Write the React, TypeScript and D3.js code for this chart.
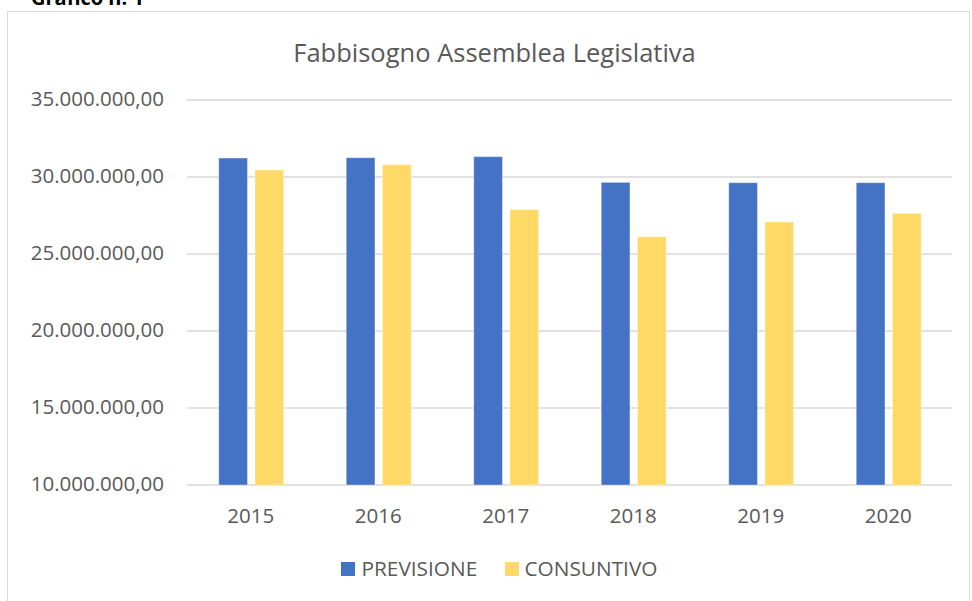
import React from "react";
import * as d3 from "d3";

const years = ["2015", "2016", "2017", "2018", "2019", "2020"];
const seriesNames = ["PREVISIONE", "CONSUNTIVO"];
const previsione = [31230000, 31250000, 31320000, 29650000, 29630000, 29630000];
const consuntivo = [30450000, 30800000, 27880000, 26120000, 27080000, 27640000];
const yTicks = [10000000, 15000000, 20000000, 25000000, 30000000, 35000000];
const colors = ["#4472C4", "#FFD966"];

const W = 972;
const H = 601;
const FONT = "'Open Sans', 'Noto Sans', sans-serif";
const TEXT = "#595959";

const fmt = (v: number) => {
  const s = Math.round(v).toString().replace(/\B(?=(\d{3})+(?!\d))/g, ".");
  return s + ",00";
};

export default function App() {
  const left = 187, right = 952, top = 100, bottom = 485;
  const x0 = d3.scaleBand<string>().domain(years).range([left, right]).padding(0);
  const bw = x0.bandwidth();
  const x1 = d3
    .scaleBand<string>()
    .domain(seriesNames)
    .range([0.249 * bw, 0.758 * bw])
    .paddingInner(0.207)
    .paddingOuter(0);
  const y = d3.scaleLinear().domain([10000000, 35000000]).range([bottom, top]);
  const data = [previsione, consuntivo];

  return (
    <div style={{ position: "absolute", left: 0, top: 0 }}>
      <svg width={W} height={H} style={{ display: "block", background: "#fff" }}>
        <text x={31} y={5} fontFamily={FONT} fontWeight="bold" fontSize={20} fill="#000">
          Grafico n. 1
        </text>
        <rect x={7.5} y={11.5} width={962} height={600} fill="#fff" stroke="#d9d9d9" strokeWidth={1} />
        <text x={494.5} y={62} textAnchor="middle" fontFamily={FONT} fontSize={25.5} fill={TEXT}>
          Fabbisogno Assemblea Legislativa
        </text>
        {yTicks.map((t) => (
          <g key={t}>
            <line x1={left} x2={right} y1={y(t)} y2={y(t)} stroke="#d9d9d9" strokeWidth={1.5} />
            <text x={164} y={y(t) + 6} textAnchor="end" fontFamily={FONT} fontSize={20.5} fill={TEXT}>
              {fmt(t)}
            </text>
          </g>
        ))}
        {years.map((yr, i) => (
          <g key={yr}>
            {seriesNames.map((s, j) => (
              <rect
                key={s}
                x={(x0(yr) as number) + (x1(s) as number)}
                y={y(data[j][i])}
                width={x1.bandwidth()}
                height={bottom - y(data[j][i])}
                fill={colors[j]}
                stroke="#ffffff"
                strokeOpacity={0.35}
                strokeWidth={1}
              />
            ))}
            <text
              x={(x0(yr) as number) + bw / 2}
              y={523}
              textAnchor="middle"
              fontFamily={FONT}
              fontSize={20.5}
              fill={TEXT}
            >
              {yr}
            </text>
          </g>
        ))}
        <g>
          <rect x={341} y={562} width={14} height={14} fill={colors[0]} />
          <text x={361.5} y={576} fontFamily={FONT} fontSize={20.8} fill={TEXT}>
            {seriesNames[0]}
          </text>
          <rect x={505} y={562} width={14} height={14} fill={colors[1]} />
          <text x={524.5} y={576} fontFamily={FONT} fontSize={20.8} fill={TEXT}>
            {seriesNames[1]}
          </text>
        </g>
      </svg>
    </div>
  );
}
